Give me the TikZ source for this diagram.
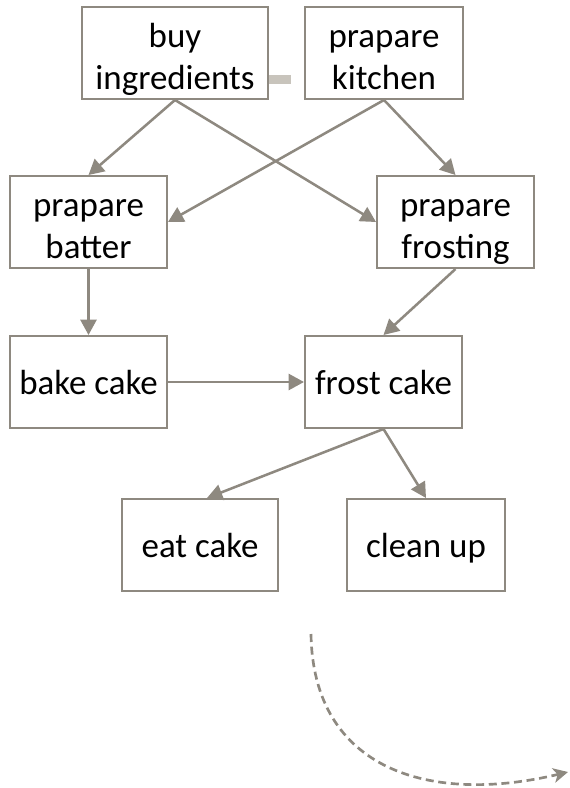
\documentclass[tikz,border=0pt]{standalone}
\usepackage{fontspec}
\setmainfont{Carlito}
\usetikzlibrary{arrows.meta}
\definecolor{edgegray}{RGB}{142,137,128}
\definecolor{linkgray}{RGB}{200,196,188}
% fixed struts so that every two-line label sits at the same height
\newcommand{\topstrut}{\rule{0pt}{29.5pt}}
\newcommand{\botstrut}{\rule[-6pt]{0pt}{0pt}}
\tikzset{
  task/.style={draw=edgegray, line width=1.5pt, fill=white, rectangle,
    minimum height=69pt, inner sep=0pt, align=center, text=black,
    font=\fontsize{26.2}{31.5}\selectfont},
  oneline/.style={text height=24pt, text depth=6pt},
  flow/.style={draw=edgegray, line width=1.9pt,
    -{Triangle[length=11.5pt, width=12pt]}, color=edgegray},
  loose/.style={draw=edgegray, line width=2pt, dash pattern=on 6pt off 3.5pt,
    -{Stealth[length=11pt, width=11pt, inset=3pt]}, color=edgegray}
}
\begin{document}
\begin{tikzpicture}[x=0.75pt, y=-0.75pt]
  \useasboundingbox (0,0) rectangle (569,788);

  % tasks
  \node[task, minimum width=139.5pt] (buy) at (175,53)
    {\topstrut buy\\ingredients\botstrut};
  \node[task, minimum width=118.5pt] (kitchen) at (384,53)
    {\topstrut prapare\\kitchen\botstrut};
  \node[task, minimum width=117.75pt] (batter) at (88.5,222)
    {\topstrut prapare\\batter\botstrut};
  \node[task, minimum width=117.75pt] (frosting) at (455.5,222)
    {\topstrut prapare\\frosting\botstrut};
  \node[task, oneline, minimum width=117.75pt] (bake) at (88.5,382) {bake cake};
  \node[task, oneline, minimum width=117.75pt] (frost) at (383.5,382) {frost cake};
  \node[task, oneline, minimum width=117pt] (eat) at (200,545) {eat cake};
  \node[task, oneline, minimum width=118.5pt] (clean) at (426,545) {clean up};

  % short link between the two starting tasks
  \fill[linkgray] (269,75) rectangle (291,84);

  % dependencies
  \draw[flow] (buy.south) -- (batter.north);
  \draw[flow] (buy.south) -- (frosting.west);
  \draw[flow] (kitchen.south) -- (batter.east);
  \draw[flow] (kitchen.south) -- (frosting.north);
  \draw[flow] (batter.south) -- (bake.north);
  \draw[flow] (frosting.south) -- (frost.north);
  \draw[flow] (bake.east) -- (frost.west);
  \draw[flow] (frost.south) -- ([xshift=5.25pt]eat.north);
  \draw[flow] (frost.south) -- (clean.north);

  % dashed curved arrow
  \coordinate (cs) at (311,634);
  \coordinate (ce) at (568,772);
  \draw[loose] (cs) .. controls (313,770) and (430,805) .. (ce);
\end{tikzpicture}
\end{document}
